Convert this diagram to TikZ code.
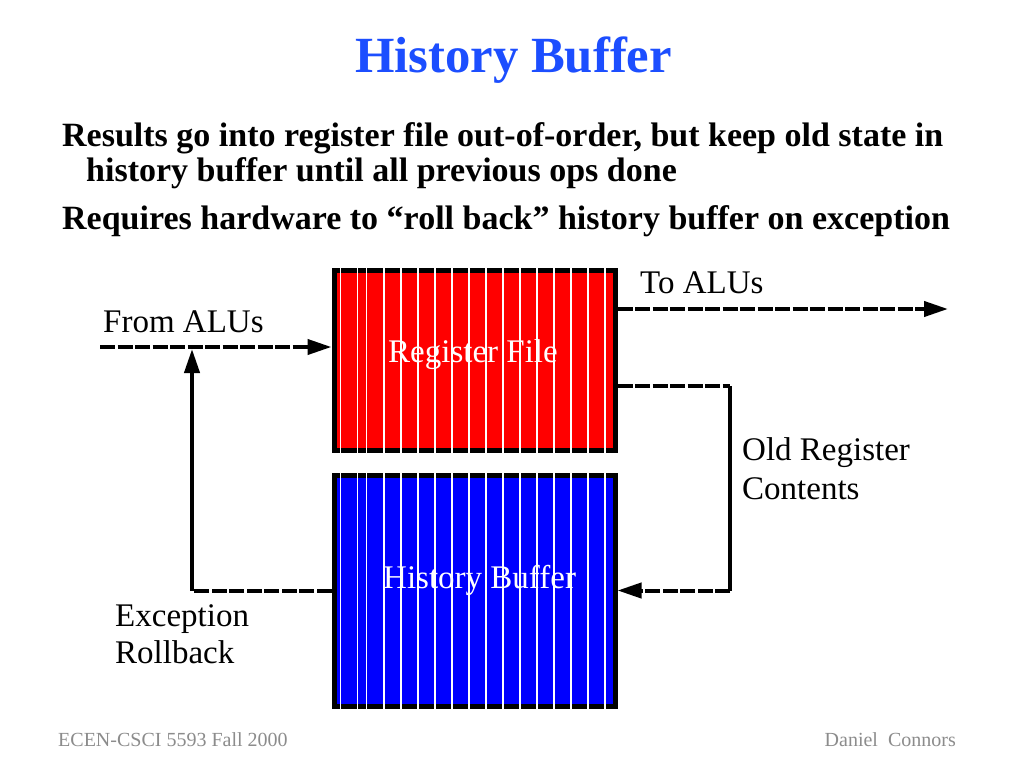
\documentclass[tikz,border=0pt]{standalone}
\usepackage{fontspec}
\setmainfont{Liberation Serif}
\usetikzlibrary{arrows.meta}

\definecolor{titleblue}{RGB}{28,78,255}
\definecolor{footgray}{RGB}{140,140,140}

\tikzset{
  regbox/.style={rectangle, draw=black, line width=5pt, inner sep=0pt, minimum width=281pt},
  boxtext/.style={anchor=base west, inner sep=0pt, white, font=\fontsize{33}{39}\selectfont},
  plaintext/.style={anchor=base west, inner sep=0pt, font=\fontsize{33}{39}\selectfont},
  bullettext/.style={anchor=base west, inner sep=0pt, font=\fontsize{34}{40}\selectfont\bfseries},
  foottext/.style={inner sep=0pt, footgray, font=\fontsize{20}{24}\selectfont},
  dashline/.style={line width=4pt, dash pattern=on 15pt off 2.5pt},
  solidline/.style={line width=4pt},
  bigtip/.style={-{Triangle[length=24pt, width=15pt]}}
}

\begin{document}
\begin{tikzpicture}[x=1pt, y=-1pt]
  \path[use as bounding box, fill=white] (0,0) rectangle (1024,768);

  % title and bullets
  \node[anchor=base, inner sep=0pt, titleblue, font=\fontsize{50.7}{60}\selectfont\bfseries] (title) at (513.5,72) {History Buffer};
  \node[bullettext] (line1) at (62,146) {Results go into register file out-of-order, but keep old state in};
  \node[bullettext] (line2) at (86,181) {history buffer until all previous ops done};
  \node[bullettext] (line3) at (62,229) {Requires hardware to “roll back” history buffer on exception};

  % the two boxes
  \node[regbox, fill=red, minimum height=180pt] (rf) at (474.5,360) {};
  \node[regbox, fill=blue, minimum height=231pt] (hb) at (474.5,590.5) {};
  \foreach \xpos in {340.7, 357.3, 366.7, 384, 401, 418, 435, 452, 469, 486, 503, 520, 537, 554, 571, 588, 605} {
    \draw[white, line width=1.5pt] (\xpos,267.5) -- (\xpos,452.5);
    \draw[white, line width=1.5pt] (\xpos,472.5) -- (\xpos,708.5);
  }
  \node[boxtext] (rflabel) at (388,362.5) {Register File};
  \node[boxtext] (hblabel) at (383,588) {History Buffer};

  % corner points of the connectors
  \coordinate (fromstart) at (100,347);
  \coordinate (toend) at (948,309);
  \coordinate (oldtop) at (730,386);
  \coordinate (oldbot) at (730,590.5);
  \coordinate (backcorner) at (192,590.5);
  \coordinate (backtip) at (192,349);

  \draw[dashline, bigtip] (fromstart) -- (fromstart -| rf.west);
  \draw[dashline, bigtip] (toend -| rf.east) -- (toend);
  \draw[dashline] (oldtop -| rf.east) -- (oldtop);
  \draw[solidline] (oldtop) -- (oldbot);
  \draw[dashline, bigtip] (oldbot) -- (hb.east);
  \draw[dashline] (hb.west) -- (backcorner);
  \draw[solidline, bigtip] (backcorner) -- (backtip);

  % labels
  \node[plaintext] (fromlabel) at (103,332) {From ALUs};
  \node[plaintext] (tolabel) at (640,293) {To ALUs};
  \node[plaintext] (oldlabel1) at (742,460) {Old Register};
  \node[plaintext] (oldlabel2) at (742,499) {Contents};
  \node[plaintext] (exclabel1) at (115,626) {Exception};
  \node[plaintext] (exclabel2) at (115,663) {Rollback};

  % footer
  \node[foottext, anchor=base west] (footleft) at (58,746) {ECEN-CSCI 5593 Fall 2000};
  \node[foottext, anchor=base east] (footright) at (956,746) {Daniel\ \ Connors};
\end{tikzpicture}
\end{document}
